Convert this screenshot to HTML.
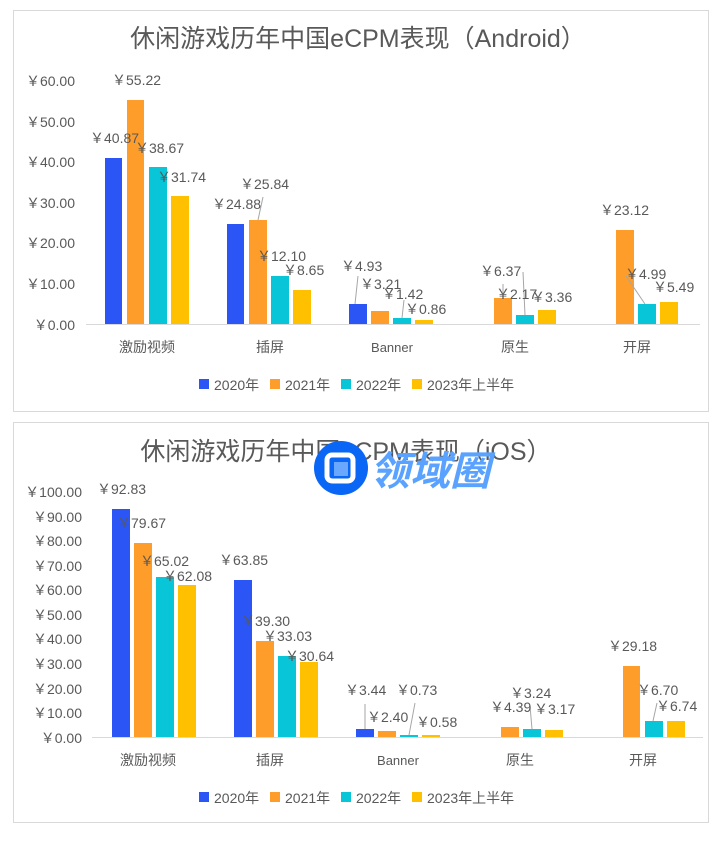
<!DOCTYPE html>
<html><head><meta charset="utf-8"><style>
body{margin:0;background:#fff;}
svg text{font-family:"Liberation Sans","Noto Sans CJK SC",sans-serif;fill:#595959;}
</style></head><body>
<svg width="723" height="840" viewBox="0 0 723 840" xmlns="http://www.w3.org/2000/svg">
<rect x="0" y="0" width="723" height="840" fill="#fff"/>
<rect x="13.5" y="10.5" width="695" height="401" fill="#fff" stroke="#d9d9d9"/>
<rect x="13.5" y="422.5" width="695" height="400" fill="#fff" stroke="#d9d9d9"/>
<!-- Chart 1 -->
<text x="358" y="47" font-size="25" text-anchor="middle">休闲游戏历年中国eCPM表现（Android）</text>
<g font-size="14" text-anchor="end">
<text x="75" y="86">￥60.00</text><text x="75" y="127">￥50.00</text><text x="75" y="167">￥40.00</text>
<text x="75" y="208">￥30.00</text><text x="75" y="248">￥20.00</text><text x="75" y="289">￥10.00</text><text x="75" y="330">￥0.00</text>
</g>
<line x1="86" y1="324.5" x2="700" y2="324.5" stroke="#d9d9d9"/>
<g>
<rect x="105" y="158" width="17" height="166" fill="#2b56f5"/>
<rect x="127" y="100" width="17" height="224" fill="#ff9d2b"/>
<rect x="149" y="167" width="18" height="157" fill="#08c5d8"/>
<rect x="171" y="196" width="18" height="128" fill="#ffc000"/>
<rect x="227" y="224" width="17" height="100" fill="#2b56f5"/>
<rect x="249" y="220" width="18" height="104" fill="#ff9d2b"/>
<rect x="271" y="276" width="18" height="48" fill="#08c5d8"/>
<rect x="293" y="290" width="18" height="34" fill="#ffc000"/>
<rect x="349" y="304" width="18" height="20" fill="#2b56f5"/>
<rect x="371" y="311" width="18" height="13" fill="#ff9d2b"/>
<rect x="393" y="318" width="18" height="6" fill="#08c5d8"/>
<rect x="415" y="320" width="18" height="4" fill="#ffc000"/>
<rect x="494" y="298" width="18" height="26" fill="#ff9d2b"/>
<rect x="516" y="315" width="18" height="9" fill="#08c5d8"/>
<rect x="538" y="310" width="18" height="14" fill="#ffc000"/>
<rect x="616" y="230" width="18" height="94" fill="#ff9d2b"/>
<rect x="638" y="304" width="18" height="20" fill="#08c5d8"/>
<rect x="660" y="302" width="18" height="22" fill="#ffc000"/>
</g>
<g stroke="#a6a6a6" stroke-width="1">
<line x1="263" y1="197" x2="258" y2="220"/><line x1="358" y1="276" x2="355" y2="304"/>
<line x1="404" y1="300" x2="402" y2="318"/><line x1="503" y1="284" x2="503" y2="298"/>
<line x1="523" y1="272" x2="525" y2="315"/><line x1="626" y1="276" x2="645" y2="304"/>
</g>
<g font-size="14">
<text x="90" y="143">￥40.87</text><text x="112" y="85">￥55.22</text><text x="135" y="153">￥38.67</text>
<text x="157" y="182">￥31.74</text><text x="212" y="209">￥24.88</text><text x="240" y="189">￥25.84</text>
<text x="257" y="261">￥12.10</text><text x="283" y="275">￥8.65</text><text x="341" y="271">￥4.93</text>
<text x="360" y="289">￥3.21</text><text x="382" y="299">￥1.42</text><text x="405" y="314">￥0.86</text>
<text x="480" y="276">￥6.37</text><text x="496" y="299">￥2.17</text><text x="531" y="302">￥3.36</text>
<text x="600" y="215">￥23.12</text><text x="625" y="279">￥4.99</text><text x="653" y="292">￥5.49</text>
</g>
<g font-size="14" text-anchor="middle">
<text x="147" y="352">激励视频</text><text x="270" y="352">插屏</text><text x="392" y="352" font-size="13">Banner</text>
<text x="515" y="352">原生</text><text x="637" y="352">开屏</text>
</g>
<g font-size="14">
<rect x="199" y="379" width="10" height="10" fill="#2b56f5"/><text x="214" y="390">2020年</text>
<rect x="270" y="379" width="10" height="10" fill="#ff9d2b"/><text x="285" y="390">2021年</text>
<rect x="341" y="379" width="10" height="10" fill="#08c5d8"/><text x="356" y="390">2022年</text>
<rect x="412" y="379" width="10" height="10" fill="#ffc000"/><text x="427" y="390">2023年上半年</text>
</g>
<!-- Chart 2 -->
<text x="346" y="460" font-size="25" text-anchor="middle">休闲游戏历年中国eCPM表现（iOS）</text>
<g font-size="14" text-anchor="end">
<text x="82" y="497">￥100.00</text><text x="82" y="522">￥90.00</text><text x="82" y="546">￥80.00</text>
<text x="82" y="571">￥70.00</text><text x="82" y="595">￥60.00</text><text x="82" y="620">￥50.00</text>
<text x="82" y="644">￥40.00</text><text x="82" y="669">￥30.00</text><text x="82" y="694">￥20.00</text>
<text x="82" y="718">￥10.00</text><text x="82" y="743">￥0.00</text>
</g>
<line x1="92" y1="737.5" x2="703" y2="737.5" stroke="#d9d9d9"/>
<g>
<rect x="112" y="509" width="18" height="228" fill="#2b56f5"/>
<rect x="134" y="543" width="18" height="194" fill="#ff9d2b"/>
<rect x="156" y="577" width="18" height="160" fill="#08c5d8"/>
<rect x="178" y="585" width="18" height="152" fill="#ffc000"/>
<rect x="234" y="580" width="18" height="157" fill="#2b56f5"/>
<rect x="256" y="641" width="18" height="96" fill="#ff9d2b"/>
<rect x="278" y="656" width="18" height="81" fill="#08c5d8"/>
<rect x="300" y="662" width="18" height="75" fill="#ffc000"/>
<rect x="356" y="729" width="18" height="8" fill="#2b56f5"/>
<rect x="378" y="731" width="18" height="6" fill="#ff9d2b"/>
<rect x="400" y="735" width="18" height="2" fill="#08c5d8"/>
<rect x="422" y="735" width="18" height="2" fill="#ffc000"/>
<rect x="501" y="727" width="18" height="10" fill="#ff9d2b"/>
<rect x="523" y="729" width="18" height="8" fill="#08c5d8"/>
<rect x="545" y="730" width="18" height="7" fill="#ffc000"/>
<rect x="623" y="666" width="17" height="71" fill="#ff9d2b"/>
<rect x="645" y="721" width="18" height="16" fill="#08c5d8"/>
<rect x="667" y="721" width="18" height="16" fill="#ffc000"/>
</g>
<g stroke="#a6a6a6" stroke-width="1">
<line x1="365" y1="704" x2="365" y2="729"/><line x1="415" y1="703" x2="409" y2="735"/>
<line x1="530" y1="706" x2="532" y2="729"/><line x1="657" y1="703" x2="653" y2="721"/>
</g>
<g font-size="14">
<text x="97" y="494">￥92.83</text><text x="117" y="528">￥79.67</text><text x="140" y="566">￥65.02</text>
<text x="163" y="581">￥62.08</text><text x="219" y="565">￥63.85</text><text x="241" y="626">￥39.30</text>
<text x="263" y="641">￥33.03</text><text x="285" y="661">￥30.64</text><text x="345" y="695">￥3.44</text>
<text x="367" y="722">￥2.40</text><text x="396" y="695">￥0.73</text><text x="416" y="727">￥0.58</text>
<text x="490" y="712">￥4.39</text><text x="510" y="698">￥3.24</text><text x="534" y="714">￥3.17</text>
<text x="608" y="651">￥29.18</text><text x="637" y="695">￥6.70</text><text x="656" y="711">￥6.74</text>
</g>
<g font-size="14" text-anchor="middle">
<text x="148" y="765">激励视频</text><text x="270" y="765">插屏</text><text x="398" y="765" font-size="13">Banner</text>
<text x="520" y="765">原生</text><text x="643" y="765">开屏</text>
</g>
<g font-size="14">
<rect x="199" y="792" width="10" height="10" fill="#2b56f5"/><text x="214" y="803">2020年</text>
<rect x="270" y="792" width="10" height="10" fill="#ff9d2b"/><text x="285" y="803">2021年</text>
<rect x="341" y="792" width="10" height="10" fill="#08c5d8"/><text x="356" y="803">2022年</text>
<rect x="412" y="792" width="10" height="10" fill="#ffc000"/><text x="427" y="803">2023年上半年</text>
</g>
<!-- watermark -->
<circle cx="341" cy="468" r="27" fill="#0a66f5"/>
<rect x="327" y="455" width="26" height="26" rx="5" fill="none" stroke="#fff" stroke-width="5"/>
<rect x="334" y="462" width="14" height="14" fill="#6aa8ff"/>
<text x="370" y="485" font-size="40" font-weight="bold" font-style="italic" style="fill:#5aa2ff">领域圈</text>
</svg>
</body></html>
